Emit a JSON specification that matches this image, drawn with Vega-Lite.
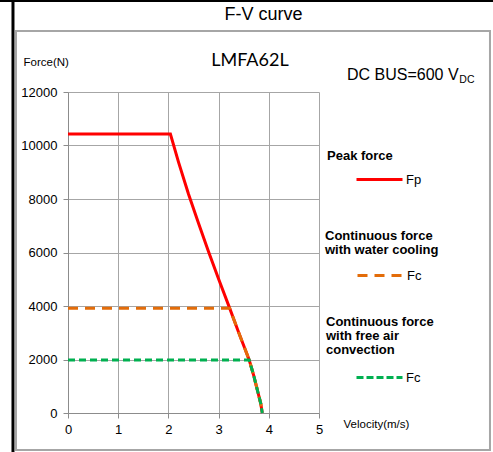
{
  "$schema": "https://vega.github.io/schema/vega-lite/v6.json",
  "width": 251,
  "height": 321,
  "autosize": "none",
  "padding": {"left": 68, "top": 92, "right": 174, "bottom": 39},
  "background": "white",
  "title": {"text": "F-V curve", "anchor": "middle", "frame": "group", "dx": 70, "dy": 25, "offset": 0, "font": "Liberation Sans", "fontSize": 18, "fontWeight": "normal", "color": "black"},
  "config": {"view": {"stroke": null}},
  "data": {"values": [
    {"curve": "peak", "label": "Fp", "v": 0, "F": 10430},
    {"curve": "peak", "label": "Fp", "v": 2.04, "F": 10430},
    {"curve": "peak", "label": "Fp", "v": 2.2, "F": 9390},
    {"curve": "peak", "label": "Fp", "v": 2.4, "F": 8190},
    {"curve": "peak", "label": "Fp", "v": 2.6, "F": 7090},
    {"curve": "peak", "label": "Fp", "v": 2.8, "F": 6030},
    {"curve": "peak", "label": "Fp", "v": 3.0, "F": 5010},
    {"curve": "peak", "label": "Fp", "v": 3.22, "F": 3920},
    {"curve": "peak", "label": "Fp", "v": 3.4, "F": 3010},
    {"curve": "peak", "label": "Fp", "v": 3.61, "F": 1981},
    {"curve": "peak", "label": "Fp", "v": 3.70, "F": 1400},
    {"curve": "peak", "label": "Fp", "v": 3.78, "F": 800},
    {"curve": "peak", "label": "Fp", "v": 3.84, "F": 350},
    {"curve": "peak", "label": "Fp", "v": 3.87, "F": 0},
    {"curve": "water", "label": "Fc", "v": 0, "F": 3920},
    {"curve": "water", "label": "Fc", "v": 3.22, "F": 3920},
    {"curve": "water", "label": "Fc", "v": 3.4, "F": 3010},
    {"curve": "water", "label": "Fc", "v": 3.61, "F": 1981},
    {"curve": "water", "label": "Fc", "v": 3.70, "F": 1400},
    {"curve": "water", "label": "Fc", "v": 3.78, "F": 800},
    {"curve": "water", "label": "Fc", "v": 3.84, "F": 350},
    {"curve": "water", "label": "Fc", "v": 3.87, "F": 0},
    {"curve": "air", "label": "Fc", "v": 0, "F": 1981},
    {"curve": "air", "label": "Fc", "v": 3.61, "F": 1981},
    {"curve": "air", "label": "Fc", "v": 3.70, "F": 1400},
    {"curve": "air", "label": "Fc", "v": 3.78, "F": 800},
    {"curve": "air", "label": "Fc", "v": 3.84, "F": 350},
    {"curve": "air", "label": "Fc", "v": 3.87, "F": 0}
  ]},
  "layer": [
    {
      "transform": [{"filter": "datum.curve == 'peak'"}],
      "mark": {"type": "line", "strokeWidth": 3},
      "encoding": {
        "x": {"field": "v", "type": "quantitative", "scale": {"domain": [0, 5], "nice": false},
          "axis": {"values": [0, 1, 2, 3, 4, 5], "grid": true, "gridColor": "#A6A6A6", "gridWidth": 1, "domainColor": "#8C8C8C", "tickColor": "#8C8C8C", "tickSize": 5, "labelFont": "Liberation Sans", "labelFontSize": 13, "labelColor": "black", "labelPadding": 5, "labelFlush": false,
            "title": "Velocity(m/s)", "titleFont": "Liberation Sans", "titleFontSize": 11.5, "titleFontWeight": "normal", "titleColor": "black", "titleAngle": 0, "titleAlign": "left", "titleBaseline": "middle", "titleX": 275, "titleY": 11}},
        "y": {"field": "F", "type": "quantitative", "scale": {"domain": [0, 12000], "nice": false},
          "axis": {"values": [0, 2000, 4000, 6000, 8000, 10000, 12000], "format": "d", "grid": true, "gridColor": "#A6A6A6", "gridWidth": 1, "domainColor": "#8C8C8C", "tickColor": "#8C8C8C", "tickSize": 5, "labelFont": "Liberation Sans", "labelFontSize": 13, "labelColor": "black", "labelPadding": 6, "labelFlush": false,
            "title": "Force(N)", "titleFont": "Liberation Sans", "titleFontSize": 11.5, "titleFontWeight": "normal", "titleColor": "black", "titleAngle": 0, "titleAlign": "left", "titleBaseline": "middle", "titleX": -45, "titleY": -30}},
        "color": {"field": "label", "type": "nominal", "scale": {"domain": ["Fp"], "range": ["#FF0000"]},
          "legend": {"title": "Peak force", "orient": "none", "legendX": 259, "legendY": 58, "padding": 0, "titleFont": "Liberation Sans", "titleFontSize": 13, "titleFontWeight": "bold", "titleColor": "black", "titlePadding": -8, "titleLineHeight": 14, "labelFont": "Liberation Sans", "labelFontSize": 13, "labelColor": "black", "labelOffset": 2, "symbolType": "stroke", "symbolSize": 2116, "symbolStrokeWidth": 3, "symbolOffset": 28}}
      }
    },
    {
      "transform": [{"filter": "datum.curve == 'water'"}],
      "mark": {"type": "line", "strokeWidth": 3, "strokeDash": [10, 7]},
      "encoding": {
        "x": {"field": "v", "type": "quantitative"},
        "y": {"field": "F", "type": "quantitative"},
        "color": {"field": "label", "type": "nominal", "scale": {"domain": ["Fc"], "range": ["#E36C09"]},
          "legend": {"title": ["Continuous force", "with water cooling"], "orient": "none", "legendX": 257, "legendY": 138, "padding": 0, "titleFont": "Liberation Sans", "titleFontSize": 13, "titleFontWeight": "bold", "titleColor": "black", "titlePadding": -6, "titleLineHeight": 14, "labelFont": "Liberation Sans", "labelFontSize": 13, "labelColor": "black", "labelOffset": 2, "symbolType": "stroke", "symbolSize": 2116, "symbolStrokeWidth": 3, "symbolOffset": 31, "symbolDash": [10, 7]}}
      }
    },
    {
      "transform": [{"filter": "datum.curve == 'air'"}],
      "mark": {"type": "line", "strokeWidth": 3, "strokeDash": [7, 4]},
      "encoding": {
        "x": {"field": "v", "type": "quantitative"},
        "y": {"field": "F", "type": "quantitative"},
        "color": {"field": "label", "type": "nominal", "scale": {"domain": ["Fc"], "range": ["#00B050"]},
          "legend": {"title": ["Continuous force", "with free air", "convection"], "orient": "none", "legendX": 258, "legendY": 224, "padding": 0, "titleFont": "Liberation Sans", "titleFontSize": 13, "titleFontWeight": "bold", "titleColor": "black", "titlePadding": -4, "titleLineHeight": 14, "labelFont": "Liberation Sans", "labelFontSize": 13, "labelColor": "black", "labelOffset": 2, "symbolType": "stroke", "symbolSize": 2116, "symbolStrokeWidth": 3, "symbolOffset": 29, "symbolDash": [7, 3]}}
      }
    },
    {
      "data": {"values": [{}]},
      "mark": {"type": "rect", "fill": "transparent", "stroke": "#A6A6A6", "strokeWidth": 2, "clip": false},
      "encoding": {
        "x": {"datum": -1.036, "type": "quantitative"},
        "x2": {"datum": 8.406},
        "y": {"datum": 14280, "type": "quantitative"},
        "y2": {"datum": -1383}
      }
    },
    {
      "data": {"values": [{}]},
      "mark": {"type": "rule", "color": "black", "strokeWidth": 3, "clip": false},
      "encoding": {
        "x": {"datum": -1.096, "type": "quantitative"},
        "y": {"datum": 15439, "type": "quantitative"},
        "y2": {"datum": -1458}
      }
    },
    {
      "data": {"values": [{}]},
      "mark": {"type": "rule", "color": "black", "strokeWidth": 2, "clip": false},
      "encoding": {
        "x": {"datum": -1.4, "type": "quantitative"},
        "x2": {"datum": 8.5},
        "y": {"datum": 15402, "type": "quantitative"}
      }
    },
    {
      "data": {"values": [{"t": "LMFA62L"}]},
      "mark": {"type": "text", "align": "center", "baseline": "middle", "font": "Lato", "fontSize": 18, "color": "black", "clip": false},
      "encoding": {
        "x": {"datum": 3.625, "type": "quantitative"},
        "y": {"datum": 13159, "type": "quantitative"},
        "text": {"field": "t"}
      }
    },
    {
      "data": {"values": [{"t": "DC BUS=600 V"}]},
      "mark": {"type": "text", "align": "left", "baseline": "middle", "font": "Liberation Sans", "fontSize": 16, "color": "black", "clip": false},
      "encoding": {
        "x": {"datum": 5.558, "type": "quantitative"},
        "y": {"datum": 12647, "type": "quantitative"},
        "text": {"field": "t"}
      }
    },
    {
      "data": {"values": [{"t": "DC"}]},
      "mark": {"type": "text", "align": "left", "baseline": "middle", "font": "Liberation Sans", "fontSize": 10.5, "color": "black", "clip": false},
      "encoding": {
        "x": {"datum": 7.795, "type": "quantitative"},
        "y": {"datum": 12430, "type": "quantitative"},
        "text": {"field": "t"}
      }
    }
  ],
  "resolve": {"scale": {"color": "independent"}}
}
